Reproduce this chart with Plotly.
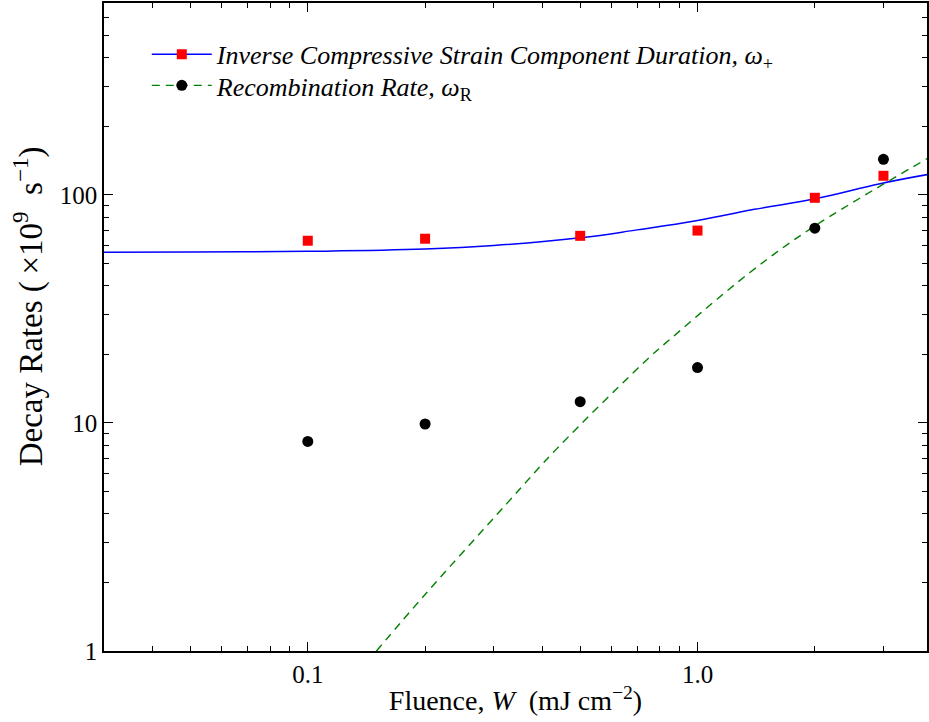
import math
import plotly.graph_objects as go

# --- data ---
fluence = [0.1, 0.2, 0.5, 1.0, 2.0, 3.0]
omega_plus = [63.0, 64.3, 66.2, 69.8, 97.2, 121.4]
omega_r = [8.3, 9.9, 12.4, 17.5, 71.5, 143.3]

fit_plus_w = [0.03, 0.05, 0.1, 0.2, 0.3, 0.5, 0.7, 1.0, 1.4, 2.0, 2.94, 3.9]
fit_plus_v = [56.1, 56.2, 56.6, 57.9, 60.0, 64.9, 70.3, 77.3, 86.5, 96.2, 112.1, 123.0]

fit_r_w = [0.15, 0.2, 0.324, 0.435, 0.755, 0.853, 1.36, 1.96, 3.9]
fit_r_v = [1.0, 1.77, 4.43, 7.7, 19.5, 23.4, 45.6, 71.5, 145.0]

x_tickvals = [0.1, 1.0]
x_ticktext = ["0.1", "1.0"]
y_tickvals = [1, 10, 100]
y_ticktext = ["1", "10", "100"]

FONT = "Liberation Serif"

fig = go.Figure()
fig.add_trace(go.Scatter(
    x=fit_plus_w, y=fit_plus_v, mode="lines", line=dict(color="#0000ff", width=1.5, shape="spline", smoothing=1.2),
    showlegend=False, hoverinfo="skip"))
fig.add_trace(go.Scatter(
    x=fit_r_w, y=fit_r_v, mode="lines", line=dict(color="#008000", width=1.4, dash="8px,6px", shape="spline"),
    showlegend=False, hoverinfo="skip"))
fig.add_trace(go.Scatter(
    x=fluence, y=omega_plus, mode="markers",
    marker=dict(symbol="square", size=10, color="#ff0000"), showlegend=False))
fig.add_trace(go.Scatter(
    x=fluence, y=omega_r, mode="markers",
    marker=dict(symbol="circle", size=11, color="black"), showlegend=False))

# legend entries (line + marker), one legend per row
fig.add_trace(go.Scatter(
    x=[None], y=[None], mode="lines+markers",
    line=dict(color="#0000ff", width=1.5),
    marker=dict(symbol="square", size=10, color="#ff0000"),
    name="<i>Inverse Compressive Strain Component Duration, ω</i><sub>+</sub>",
    legend="legend"))
fig.add_trace(go.Scatter(
    x=[None], y=[None], mode="lines+markers",
    line=dict(color="#008000", width=1.4, dash="8px,6px"),
    marker=dict(symbol="circle", size=11, color="black"),
    name="<i>Recombination Rate, ω</i><sub>R</sub>",
    legend="legend2"))

minor_x = [m * 10 ** e for e in (-2, -1, 0) for m in range(2, 10)]
minor_y = [m * 10 ** e for e in (0, 1, 2) for m in range(2, 10)]

leg_common = dict(xanchor="left", yanchor="top", bgcolor="rgba(0,0,0,0)",
                  itemwidth=60, font=dict(family=FONT, size=26))

fig.update_layout(
    width=929, height=722,
    margin=dict(l=104, r=2, t=3, b=71, autoexpand=False),
    paper_bgcolor="white", plot_bgcolor="white",
    font=dict(family=FONT, size=24, color="black"),
    legend=dict(x=0.052, y=0.957, **leg_common),
    legend2=dict(x=0.052, y=0.909, **leg_common),
    annotations=[dict(
        text="Decay Rates (\u2009×10<sup>9</sup>\u2002s<sup>−1</sup>)",
        xref="paper", yref="paper", x=-0.0923, y=0.532,
        xanchor="center", yanchor="middle", textangle=-90, showarrow=False,
        font=dict(family=FONT, size=33))],
)
fig.update_xaxes(
    type="log", range=[math.log10(0.03), math.log10(3.88)],
    tickvals=x_tickvals, ticktext=x_ticktext,
    ticks="inside", ticklen=9, tickwidth=1.2, tickcolor="black",
    minor=dict(tickvals=minor_x, ticks="inside", ticklen=5, tickwidth=1.2, tickcolor="black", showgrid=False),
    showline=True, linecolor="black", linewidth=1.5, mirror="ticks",
    showgrid=False, zeroline=False, automargin=False,
    tickfont=dict(size=25),
    title=dict(text="Fluence, <i>W</i>  (mJ cm<sup>−2</sup>)", font=dict(size=28), standoff=4),
)
fig.update_yaxes(
    type="log", range=[0, math.log10(695)],
    tickvals=y_tickvals, ticktext=y_ticktext,
    ticks="inside", ticklen=9, tickwidth=1.2, tickcolor="black",
    minor=dict(tickvals=minor_y, ticks="inside", ticklen=5, tickwidth=1.2, tickcolor="black", showgrid=False),
    showline=True, linecolor="black", linewidth=1.5, mirror="ticks",
    showgrid=False, zeroline=False, automargin=False,
    tickfont=dict(size=25),
)

fig.write_html("out.html", config={"displayModeBar": False},
               post_script="document.body.style.margin='0';document.body.style.overflow='hidden';")
